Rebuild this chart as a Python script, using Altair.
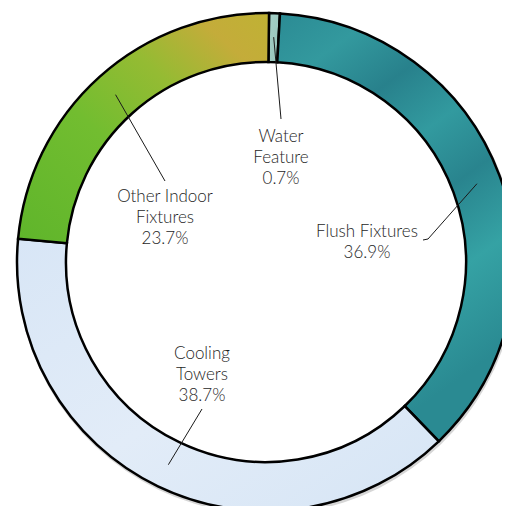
import math
import altair as alt
import pandas as pd

# ---- data ----
categories = ["Water Feature", "Flush Fixtures", "Cooling Towers", "Other Indoor Fixtures"]
label_lines = [["Water", "Feature"], ["Flush Fixtures"], ["Cooling", "Towers"], ["Other Indoor", "Fixtures"]]
values = [0.7, 36.9, 38.7, 23.7]
order = [0, 1, 2, 3]

# ---- layout (pixels, chart coordinates) ----
W, H = 494, 498
CX, CY = 258, 254
R_OUT, R_IN = 249, 200
R_MID = 225
START = math.radians(0.7)
LINE_H = 21
# first-line positions of the label blocks relative to the pie centre, and leader end points
label_off = {"Water Feature": (15, -125), "Flush Fixtures": (101, -30),
             "Cooling Towers": (-64, 92), "Other Indoor Fixtures": (-101, -65)}
leader_end = {"Water Feature": [(15, -143)], "Flush Fixtures": [(162, -23), (157, -22)],
              "Cooling Towers": [(-64, 147)], "Other Indoor Fixtures": [(-101, -81)]}

df = pd.DataFrame({"cat": categories, "value": values, "ord": order})
df["label"] = [
    "\n".join(l + [f"{v:.1f}%"]) for l, v in zip(label_lines, values)
]

# label positions and leaders (mid-angle of each slice on the ring)
total = sum(values)
cum = 0.0
lab_rows, lead_rows = [], []
for c, v in zip(categories, values):
    mid = START + 2 * math.pi * (cum + v / 2) / total
    cum += v
    sx, sy = CX + R_MID * math.sin(mid), CY - R_MID * math.cos(mid)
    pts = [(sx, sy)] + [(CX + dx, CY + dy) for dx, dy in leader_end[c]]
    for i, (px, py) in enumerate(pts):
        lead_rows.append({"cat": c, "i": i, "px": px, "py": py})
    ox, oy = label_off[c]
    lab_rows.append({"cat": c, "px": CX + ox, "py": CY + oy,
                     "label": df.loc[df.cat == c, "label"].iloc[0]})
lab_df = pd.DataFrame(lab_rows)
lead_df = pd.DataFrame(lead_rows)

fills = {
    "Water Feature": alt.Gradient(gradient="linear", x1=0, y1=0, x2=1, y2=1,
                                  stops=[alt.GradientStop(color="#a6d1c8", offset=0),
                                         alt.GradientStop(color="#93c2b9", offset=1)]),
    "Flush Fixtures": alt.Gradient(gradient="linear", x1=0, y1=0, x2=0.4, y2=1,
                                   stops=[alt.GradientStop(color="#2b8b94", offset=0),
                                          alt.GradientStop(color="#33999e", offset=0.15),
                                          alt.GradientStop(color="#28818c", offset=0.3),
                                          alt.GradientStop(color="#329a9f", offset=0.45),
                                          alt.GradientStop(color="#29848e", offset=0.6),
                                          alt.GradientStop(color="#35a2a4", offset=0.78),
                                          alt.GradientStop(color="#2a8a92", offset=1)]),
    "Cooling Towers": alt.Gradient(gradient="linear", x1=0, y1=0, x2=1, y2=1,
                                   stops=[alt.GradientStop(color="#d8e6f6", offset=0),
                                          alt.GradientStop(color="#e2ecf8", offset=0.5),
                                          alt.GradientStop(color="#d6e5f5", offset=1)]),
    "Other Indoor Fixtures": alt.Gradient(gradient="linear", x1=0, y1=1, x2=1, y2=0,
                                          stops=[alt.GradientStop(color="#5fb52b", offset=0),
                                                 alt.GradientStop(color="#72bd30", offset=0.4),
                                                 alt.GradientStop(color="#95bb33", offset=0.65),
                                                 alt.GradientStop(color="#c4ac3a", offset=0.85),
                                                 alt.GradientStop(color="#bfb234", offset=1)]),
}

theta_scale = alt.Scale(domain=[0, total], range=[START, START + 2 * math.pi])
base = alt.Chart(df).transform_stack(
    stack="value", groupby=[], as_=["s0", "s1"], sort=[alt.SortField("ord", order="ascending")]
)

# soft shadow ring
shadow = base.mark_arc(radius=R_OUT + 1.5, radius2=R_OUT - 2, color="#8a8a8a", opacity=0.35).encode(
    theta=alt.Theta("s0:Q", scale=theta_scale), theta2="s1:Q",
    x=alt.value(CX + 1), y=alt.value(CY + 2),
)

slices = []
for c in categories:
    slices.append(
        base.transform_filter(alt.datum.cat == c)
        .mark_arc(radius=R_OUT, radius2=R_IN, fill=fills[c], stroke="#000000", strokeWidth=2.5)
        .encode(theta=alt.Theta("s0:Q", scale=theta_scale), theta2="s1:Q",
                x=alt.value(CX), y=alt.value(CY))
    )

leaders = alt.Chart(lead_df).mark_line(color="#1a1a1a", strokeWidth=1).encode(
    x=alt.X("px:Q", scale=None), y=alt.Y("py:Q", scale=None),
    detail="cat:N", order="i:Q",
)

labels = alt.Chart(lab_df).mark_text(
    font="Lato", fontSize=17, fontWeight=300, color="#1e1e1e", lineBreak="\n", lineHeight=LINE_H,
    align="center", baseline="middle",
).encode(x=alt.X("px:Q", scale=None), y=alt.Y("py:Q", scale=None), text="label:N")

chart = alt.layer(shadow, *slices, leaders, labels).properties(
    width=W, height=H, padding=0, autosize=alt.AutoSizeParams(type="none")
).configure_view(stroke=None)

chart.save("out.html", embed_options={"renderer": "svg", "actions": False})
